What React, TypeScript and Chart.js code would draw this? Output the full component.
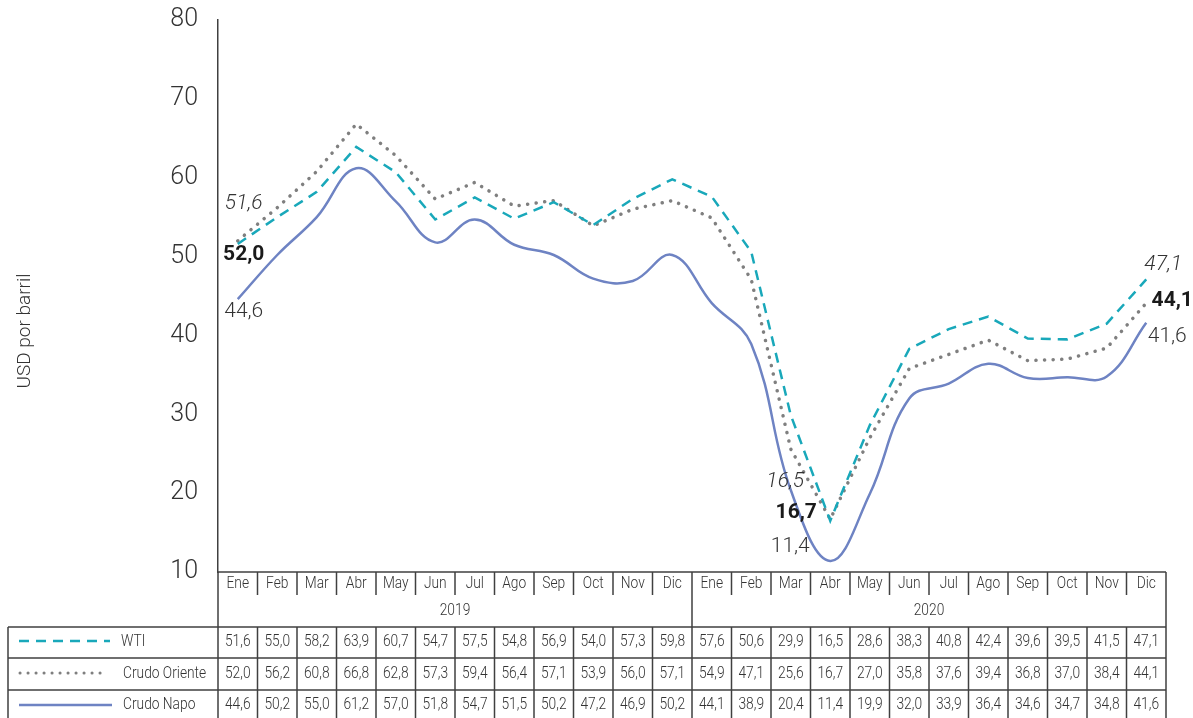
import React, { useEffect, useRef } from "react";
import { Chart, registerables } from "chart.js";

Chart.register(...registerables);

const months = ["Ene", "Feb", "Mar", "Abr", "May", "Jun", "Jul", "Ago", "Sep", "Oct", "Nov", "Dic"];
const years = ["2019", "2020"];
const categories = years.flatMap((y) => months.map((m) => `${m} ${y}`));

const wti = [51.6, 55.0, 58.2, 63.9, 60.7, 54.7, 57.5, 54.8, 56.9, 54.0, 57.3, 59.8, 57.6, 50.6, 29.9, 16.5, 28.6, 38.3, 40.8, 42.4, 39.6, 39.5, 41.5, 47.1];
const oriente = [52.0, 56.2, 60.8, 66.8, 62.8, 57.3, 59.4, 56.4, 57.1, 53.9, 56.0, 57.1, 54.9, 47.1, 25.6, 16.7, 27.0, 35.8, 37.6, 39.4, 36.8, 37.0, 38.4, 44.1];
const napo = [44.6, 50.2, 55.0, 61.2, 57.0, 51.8, 54.7, 51.5, 50.2, 47.2, 46.9, 50.2, 44.1, 38.9, 20.4, 11.4, 19.9, 32.0, 33.9, 36.4, 34.6, 34.7, 34.8, 41.6];

const seriesNames = ["WTI", "Crudo Oriente", "Crudo Napo"];
const yMin = 10;
const yMax = 80;
const yStep = 10;
const yTitle = "USD por barril";

const FONT = "Roboto, 'Liberation Sans', sans-serif";
const TEXT = "#333333";
const LINE = "#404040";
const COLORS = ["#19A8BA", "#7F7F7F", "#6E83C3"];

const fmt = (v: number) => v.toFixed(1).replace(".", ",");

// label styles/offsets (layout, not data)
const labelSpecs = [
  { ds: 0, idx: 0, dx: 6, dy: -40, style: "italic 300" },
  { ds: 0, idx: 15, dx: -45, dy: -39, style: "italic 300" },
  { ds: 0, idx: 23, dx: 17, dy: -15, style: "italic 300" },
  { ds: 1, idx: 0, dx: 6, dy: 14, style: "bold" },
  { ds: 1, idx: 15, dx: -34, dy: -6, style: "bold" },
  { ds: 1, idx: 23, dx: 26, dy: -2, style: "bold" },
  { ds: 2, idx: 0, dx: 6, dy: 13, style: "300" },
  { ds: 2, idx: 15, dx: -40, dy: -14, style: "300" },
  { ds: 2, idx: 23, dx: 21, dy: 14, style: "300" },
];

const condensedText = (ctx: CanvasRenderingContext2D, text: string, x: number, y: number, align: "center" | "left", sx = 0.86) => {
  ctx.save();
  ctx.translate(x, y);
  ctx.scale(sx, 1);
  ctx.textAlign = align;
  ctx.fillText(text, 0, 0);
  ctx.restore();
};

const overlayPlugin = {
  id: "overlay",
  afterDraw(chart: any) {
    const ctx: CanvasRenderingContext2D = chart.ctx;
    const xs = chart.scales.x;
    const ys = chart.scales.y;
    const { left: L, right: R, bottom: B } = chart.chartArea;
    const n = categories.length;
    const colW = (R - L) / n;
    const bound = (i: number) => L + i * colW;
    const center = (i: number) => xs.getPixelForValue(i);

    const yMonthSepEnd = 595;
    const rowTops = [627, 658, 690];
    const rowBottom = 720;
    const tableLeft = 8;

    ctx.save();
    ctx.strokeStyle = LINE;
    ctx.lineWidth = 1.5;
    ctx.beginPath();
    ctx.moveTo(L, B);
    ctx.lineTo(L, rowBottom);
    ctx.moveTo(R, B);
    ctx.lineTo(R, rowBottom);
    ctx.moveTo(L, B);
    ctx.lineTo(R, B);
    for (let i = 1; i < n; i++) {
      const x = bound(i);
      if (i === 12) {
        ctx.moveTo(x, B);
        ctx.lineTo(x, rowBottom);
      } else {
        ctx.moveTo(x, B);
        ctx.lineTo(x, yMonthSepEnd);
        ctx.moveTo(x, rowTops[0]);
        ctx.lineTo(x, rowBottom);
      }
    }
    for (const t of rowTops) {
      ctx.moveTo(tableLeft, t);
      ctx.lineTo(R, t);
    }
    ctx.moveTo(tableLeft, rowTops[0]);
    ctx.lineTo(tableLeft, rowBottom);
    ctx.stroke();

    ctx.fillStyle = TEXT;
    ctx.textBaseline = "middle";
    ctx.font = `300 16px ${FONT}`;
    for (let i = 0; i < n; i++) {
      condensedText(ctx, months[i % 12], center(i), 584, "center");
    }
    condensedText(ctx, years[0], (bound(0) + bound(12)) / 2, 611, "center");
    condensedText(ctx, years[1], (bound(12) + bound(24)) / 2, 611, "center");

    const all = [wti, oriente, napo];
    const rowCenters = [642, 674, 705];
    for (let s = 0; s < 3; s++) {
      for (let i = 0; i < n; i++) {
        condensedText(ctx, fmt(all[s][i]), center(i), rowCenters[s], "center");
      }
      condensedText(ctx, seriesNames[s], s === 0 ? 121 : 123, rowCenters[s], "left");
    }

    ctx.lineCap = "butt";
    ctx.strokeStyle = COLORS[0];
    ctx.lineWidth = 2.5;
    ctx.setLineDash([10, 7]);
    ctx.beginPath();
    ctx.moveTo(19, 641);
    ctx.lineTo(110, 641);
    ctx.stroke();

    ctx.strokeStyle = COLORS[1];
    ctx.lineWidth = 3;
    ctx.lineCap = "round";
    ctx.setLineDash([0.1, 7.9]);
    ctx.beginPath();
    ctx.moveTo(20, 673);
    ctx.lineTo(106, 673);
    ctx.stroke();

    ctx.strokeStyle = COLORS[2];
    ctx.lineWidth = 2.5;
    ctx.lineCap = "butt";
    ctx.setLineDash([]);
    ctx.beginPath();
    ctx.moveTo(19, 705);
    ctx.lineTo(112, 705);
    ctx.stroke();

    ctx.save();
    ctx.translate(25, 331);
    ctx.rotate(-Math.PI / 2);
    ctx.font = `300 19px ${FONT}`;
    ctx.fillStyle = TEXT;
    ctx.textAlign = "center";
    ctx.textBaseline = "middle";
    ctx.fillText(yTitle, 0, 0);
    ctx.restore();

    for (const sp of labelSpecs) {
      const v = all[sp.ds][sp.idx];
      const px = xs.getPixelForValue(sp.idx);
      const py = ys.getPixelForValue(v);
      ctx.font = `${sp.style} 21px ${FONT}`;
      ctx.fillStyle = sp.style === "bold" ? "#1a1a1a" : TEXT;
      ctx.textAlign = "center";
      ctx.textBaseline = "middle";
      ctx.fillText(fmt(v), px + sp.dx, py + sp.dy);
    }
    ctx.restore();
  },
};

export default function App() {
  const ref = useRef<HTMLCanvasElement | null>(null);
  useEffect(() => {
    if (!ref.current) return;
    const chart = new Chart(ref.current, {
      type: "line",
      data: {
        labels: categories,
        datasets: [
          {
            label: seriesNames[0],
            data: wti,
            borderColor: COLORS[0],
            borderWidth: 2.5,
            borderDash: [10, 7],
            pointRadius: 0,
            tension: 0,
            fill: false,
          },
          {
            label: seriesNames[1],
            data: oriente,
            borderColor: COLORS[1],
            borderWidth: 3.5,
            borderDash: [0.1, 8.5],
            borderCapStyle: "round",
            pointRadius: 0,
            tension: 0,
            fill: false,
          },
          {
            label: seriesNames[2],
            data: napo,
            borderColor: COLORS[2],
            borderWidth: 2.5,
            pointRadius: 0,
            tension: 0.4,
            fill: false,
          },
        ],
      },
      options: {
        responsive: false,
        animation: false,
        devicePixelRatio: 1,
        layout: { padding: { top: 20, right: 27, bottom: 146, left: 0 } },
        plugins: { legend: { display: false }, tooltip: { enabled: false } },
        scales: {
          x: { display: false, offset: true },
          y: {
            min: yMin,
            max: yMax,
            ticks: {
              stepSize: yStep,
              padding: 20,
              color: TEXT,
              font: { family: FONT, size: 25, weight: "300" as any },
            },
            grid: { display: false, drawTicks: false },
            border: { display: true, color: LINE, width: 1.5 },
            afterFit: (s: any) => {
              s.width = 218;
              s.paddingTop = 0;
              s.paddingBottom = 0;
            },
          },
        },
      },
      plugins: [overlayPlugin],
    });
    return () => chart.destroy();
  }, []);
  return (
    <div style={{ position: "absolute", left: 0, top: 0, width: 1193, height: 718, background: "#fff" }}>
      <canvas ref={ref} width={1193} height={718} style={{ display: "block" }} />
    </div>
  );
}
